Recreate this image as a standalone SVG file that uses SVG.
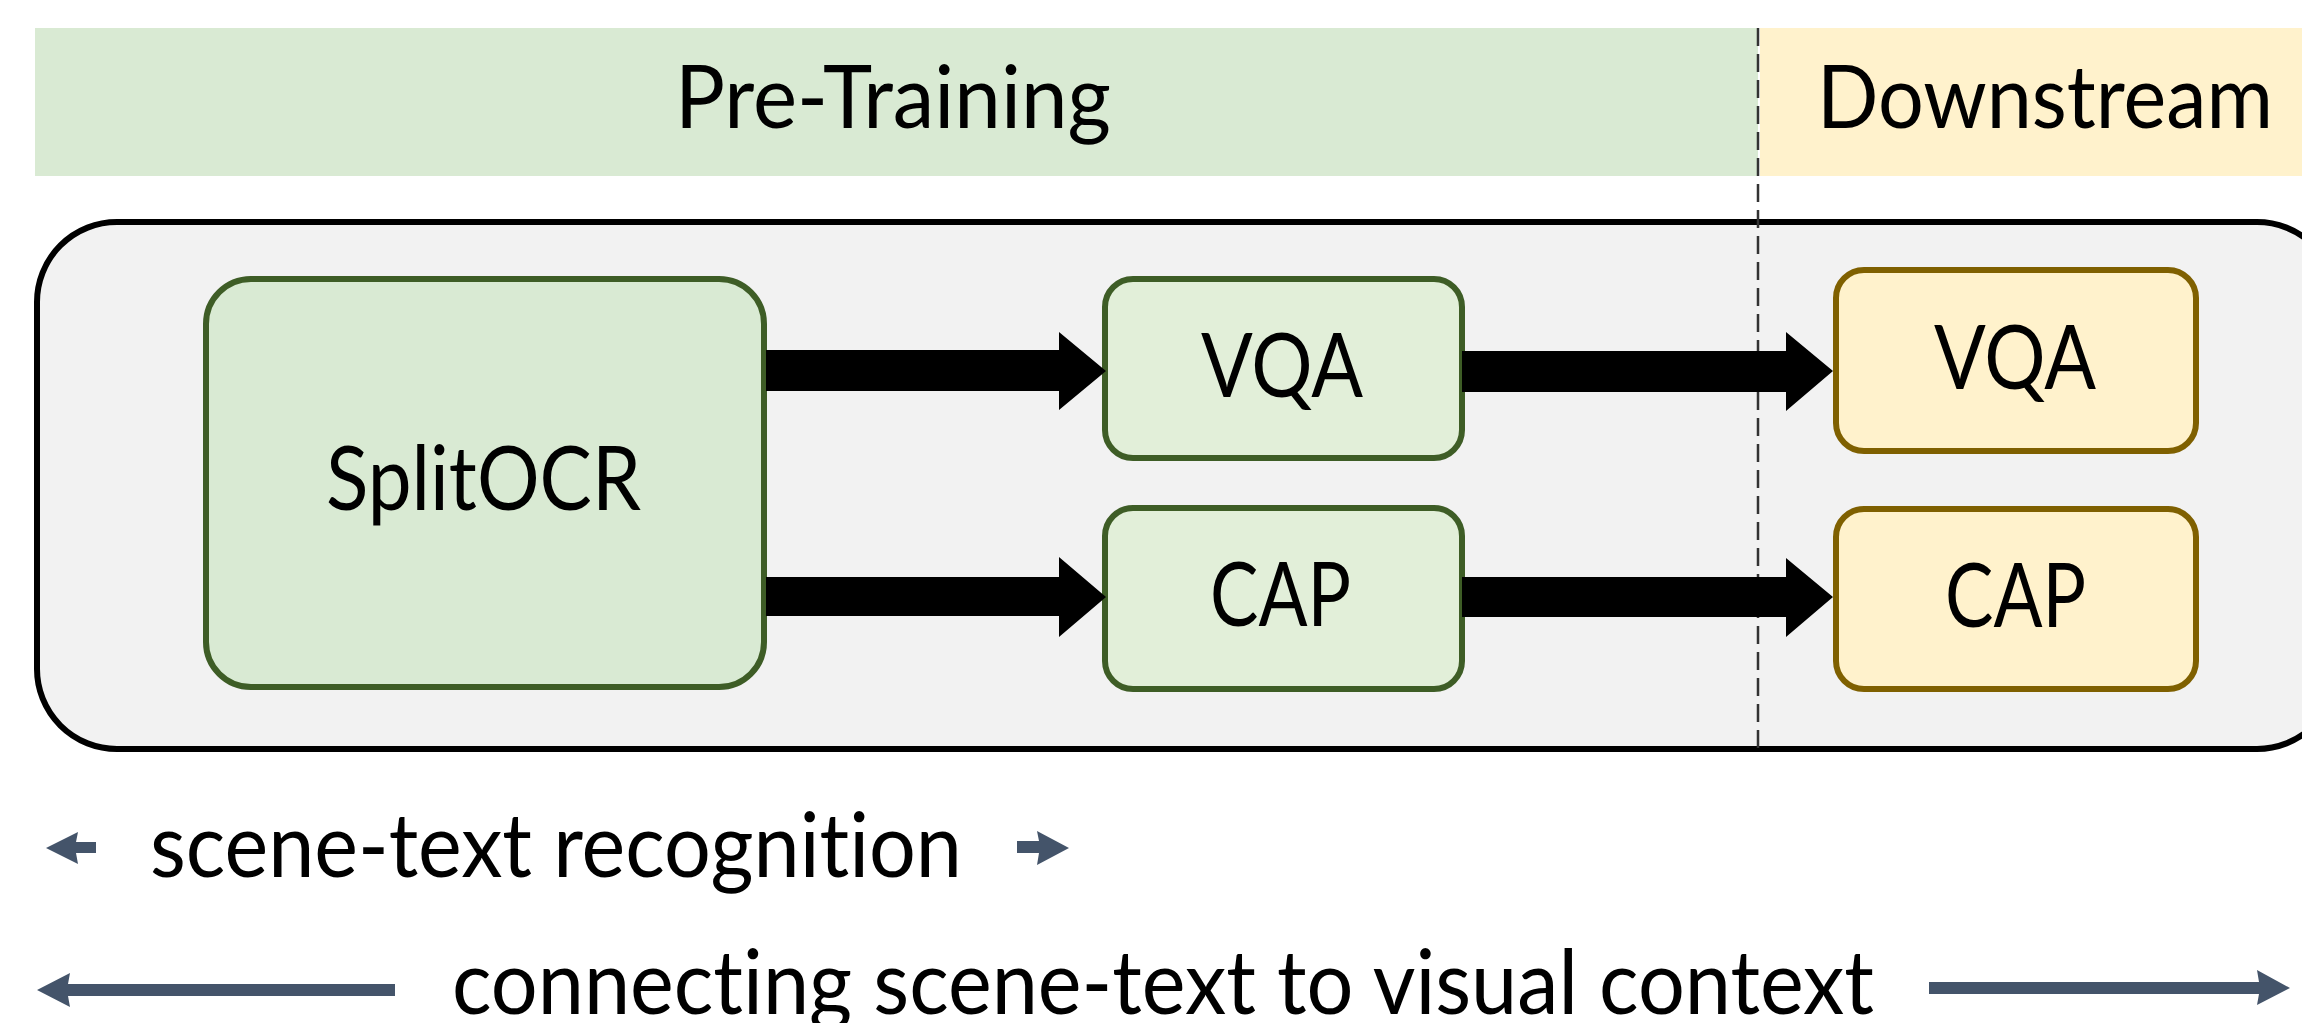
<svg xmlns="http://www.w3.org/2000/svg" width="2302" height="1023" viewBox="0 0 2302 1023">
<defs>
<style>
.t{font-family:Lato,"Open Sans","Liberation Sans",sans-serif;fill:#000;font-variant-ligatures:none;font-feature-settings:"liga" 0;}
.h{font-size:88px;}
.n{font-size:90px;}
.g{fill:#e2efd9;stroke:#3e5d26;stroke-width:6;}
.y{fill:#fff2cc;stroke:#7f6000;stroke-width:6;}
.blk{fill:#000;}
.sl{fill:#44546a;}
</style>
</defs>
<rect width="2302" height="1023" fill="#fff"/>
<g id="header">
<rect x="35" y="28" width="1723" height="148" fill="#d9ead3"/>
<rect x="1760" y="28" width="542" height="148" fill="#fff2cc"/>
<text class="t h" x="675" y="128" textLength="436" lengthAdjust="spacingAndGlyphs">Pre-Training</text>
<text class="t h" x="1817" y="128" textLength="456" lengthAdjust="spacingAndGlyphs">Downstream</text>
</g>
<g id="container">
<rect x="37" y="222" width="2300" height="527" rx="80" ry="80" fill="#f2f2f2" stroke="#000" stroke-width="6"/>
</g>
<line id="divider" x1="1758" y1="28" x2="1758" y2="748" stroke="#333" stroke-width="2.5" stroke-dasharray="18 8"/>
<g id="splitocr">
<rect x="206" y="279" width="558" height="408" rx="45" ry="45" class="g" style="fill:#d9ead3"/>
<text class="t n" x="326" y="510" textLength="315" lengthAdjust="spacingAndGlyphs">SplitOCR</text>
</g>
<g id="pt-vqa">
<rect x="1105" y="279" width="357" height="179" rx="28" ry="28" class="g"/>
<text class="t n" x="1201" y="397" textLength="162" lengthAdjust="spacingAndGlyphs">VQA</text>
</g>
<g id="pt-cap">
<rect x="1105" y="508" width="357" height="181" rx="28" ry="28" class="g"/>
<text class="t n" x="1210" y="626" textLength="141" lengthAdjust="spacingAndGlyphs">CAP</text>
</g>
<g id="ds-vqa">
<rect x="1836" y="270" width="360" height="181" rx="28" ry="28" class="y"/>
<text class="t n" x="1934" y="389" textLength="162" lengthAdjust="spacingAndGlyphs">VQA</text>
</g>
<g id="ds-cap">
<rect x="1836" y="509" width="360" height="180" rx="28" ry="28" class="y"/>
<text class="t n" x="1945" y="627" textLength="141" lengthAdjust="spacingAndGlyphs">CAP</text>
</g>
<g id="connectors">
<polygon class="blk" points="766,350 1059,350 1059,332 1106,371 1059,410 1059,391 766,391"/>
<polygon class="blk" points="766,577 1059,577 1059,557 1106,597 1059,637 1059,616 766,616"/>
<polygon class="blk" points="1462,351 1786,351 1786,332 1833,371 1786,411 1786,392 1462,392"/>
<polygon class="blk" points="1462,577 1786,577 1786,558 1833,597 1786,637 1786,617 1462,617"/>
</g>
<g id="scope-arrows">
<polygon class="sl" points="46,848 78,832 76,842 96,842 96,853 76,853 78,864"/>
<polygon class="sl" points="1069,848 1037,831 1039,841 1017,841 1017,853 1039,853 1037,865"/>
<polygon class="sl" points="37,990 70,973 68,984 395,984 395,996 68,996 70,1007"/>
<polygon class="sl" points="2290,988 2257,970 2259,982 1929,982 1929,994 2259,994 2257,1005"/>
</g>
<g id="labels">
<text class="t n" x="150" y="877" textLength="812" lengthAdjust="spacingAndGlyphs">scene-text recognition</text>
<text class="t n" x="452" y="1014" textLength="1422" lengthAdjust="spacingAndGlyphs">connecting scene-text to visual context</text>
</g>
</svg>
